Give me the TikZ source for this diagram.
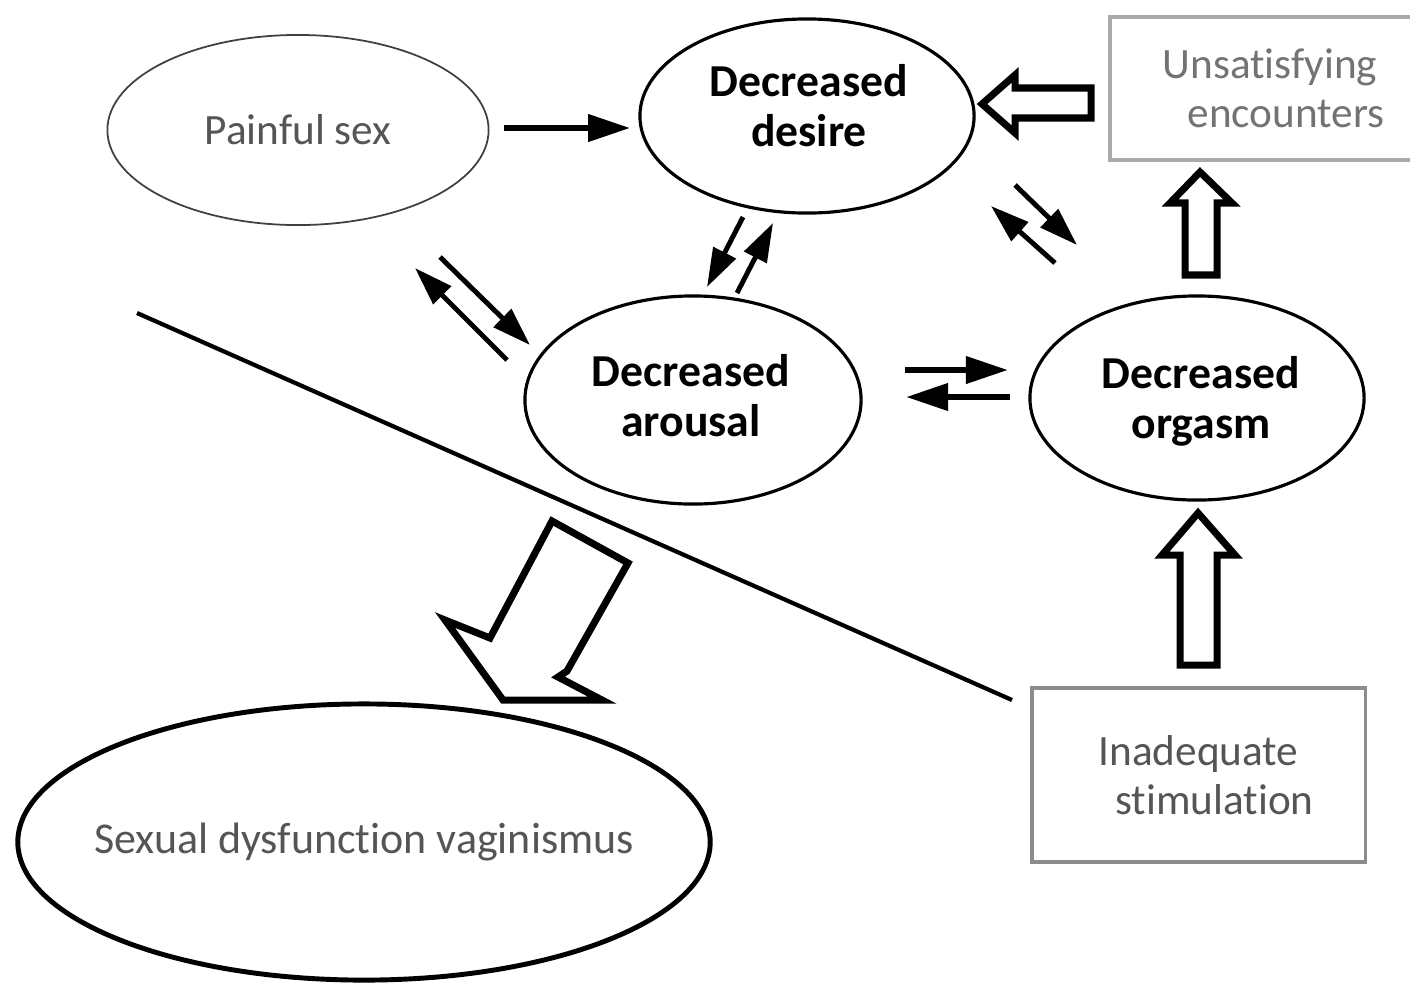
\documentclass[tikz,border=0pt]{standalone}
\usepackage{fontspec}
\setmainfont{Carlito}[RawFeature={-liga}]
\usetikzlibrary{arrows.meta,shapes.geometric}
\definecolor{txtgray}{HTML}{555555}
\definecolor{lightbox}{HTML}{AAAAAA}
\definecolor{midbox}{HTML}{8C8C8C}
\begin{document}
\begin{tikzpicture}[x=0.01cm,y=-0.01cm,
  ell/.style={ellipse, draw, inner sep=0pt, line width=0.9pt},
  boldtxt/.style={font=\fontsize{13}{14.2}\selectfont\bfseries, align=center, inner sep=0pt},
  plain/.style={font=\fontsize{12.3}{14}\selectfont, text=txtgray, align=center},
  arr/.style={line width=1.4pt, -{Triangle[length=11pt,width=7pt]}},
  harr/.style={line width=1.8pt, -{Triangle[length=12pt,width=7.5pt]}},
  hollow/.style={draw, fill=white, line width=2pt, line join=miter}]
\useasboundingbox (0,0) rectangle (1410,984);
\fill[white] (0,0) rectangle (1410,984);

% nodes
\node[ellipse, draw=black!75, line width=0.5pt, inner sep=0pt, plain,
  minimum width=3.81cm, minimum height=1.9cm] (pain) at (298,130) {Painful sex};
\node[ell, minimum width=3.34cm, minimum height=1.94cm] (desire) at (807,116) {};
\node[boldtxt] (desiretxt) at (809,106) {Decreased\\desire};
\node[ell, minimum width=3.36cm, minimum height=2.08cm] (arousal) at (693,400) {};
\node[boldtxt] (arousaltxt) at (691,396) {Decreased\\arousal};
\node[ell, minimum width=3.34cm, minimum height=2.04cm] (orgasm) at (1197,398) {};
\node[boldtxt] (orgasmtxt) at (1201,401) {Decreased\\orgasm};
\node[ellipse, draw, line width=1.4pt, inner sep=0pt, plain,
  font=\fontsize{12.5}{14}\selectfont,
  minimum width=6.92cm, minimum height=2.76cm] (dysf) at (364,842)
  {\makebox[0pt]{\raisebox{-0.05cm}{Sexual dysfunction vaginismus}}};
\node[rectangle, draw=lightbox, line width=1.3pt, plain, text=black!55,
  minimum width=3.2cm, minimum height=1.43cm] (unsat) at (1270,88.5)
  {Unsatisfying\\\hspace*{0.32cm}encounters};
\node[rectangle, draw=midbox, line width=0.9pt, plain,
  minimum width=3.33cm, minimum height=1.74cm] (stim) at (1198.5,775)
  {Inadequate\\\hspace*{0.32cm}stimulation};

% dividing line
\coordinate (l1) at (137,313);
\coordinate (l2) at (1012,700);
\draw[line width=1.2pt] (l1) -- (l2);

% arrows
\path (pain.east) ++(14,-2) coordinate (ps);
\draw[harr, shorten >=2.3pt] (ps) -- (ps -| desire.west);
% pain <-> arousal
\draw[arr] (440,257) -- (530,345);
\draw[arr] (507,360) -- (415,268);
% desire <-> arousal
\draw[arr] (743,217) -- (707,287);
\draw[arr] (737,293) -- (773,223);
% desire <-> orgasm
\draw[arr] (1015,185) -- (1077,245);
\draw[arr] (1055,263) -- (991,206);
% arousal <-> orgasm
\draw[harr] (905,370) -- (1008,370);
\draw[harr] (1010,397) -- (906,397);

% hollow block arrows
\draw[hollow] (982,104) -- (1015,75) -- (1015,88) -- (1091,88) -- (1091,118)
  -- (1015,118) -- (1015,133) -- cycle;
\draw[hollow] (1200,172) -- (1232,203) -- (1217,203) -- (1217,275) -- (1185,275)
  -- (1185,203) -- (1170,203) -- cycle;
\draw[hollow] (1198,513) -- (1235,555) -- (1217,555) -- (1217,665) -- (1180,665)
  -- (1180,555) -- (1162,555) -- cycle;
\draw[hollow] (552,521) -- (628,563) -- (567,671) -- (558,677) -- (602,700)
  -- (503,700) -- (445,620) -- (490,638) -- cycle;
\end{tikzpicture}
\end{document}
